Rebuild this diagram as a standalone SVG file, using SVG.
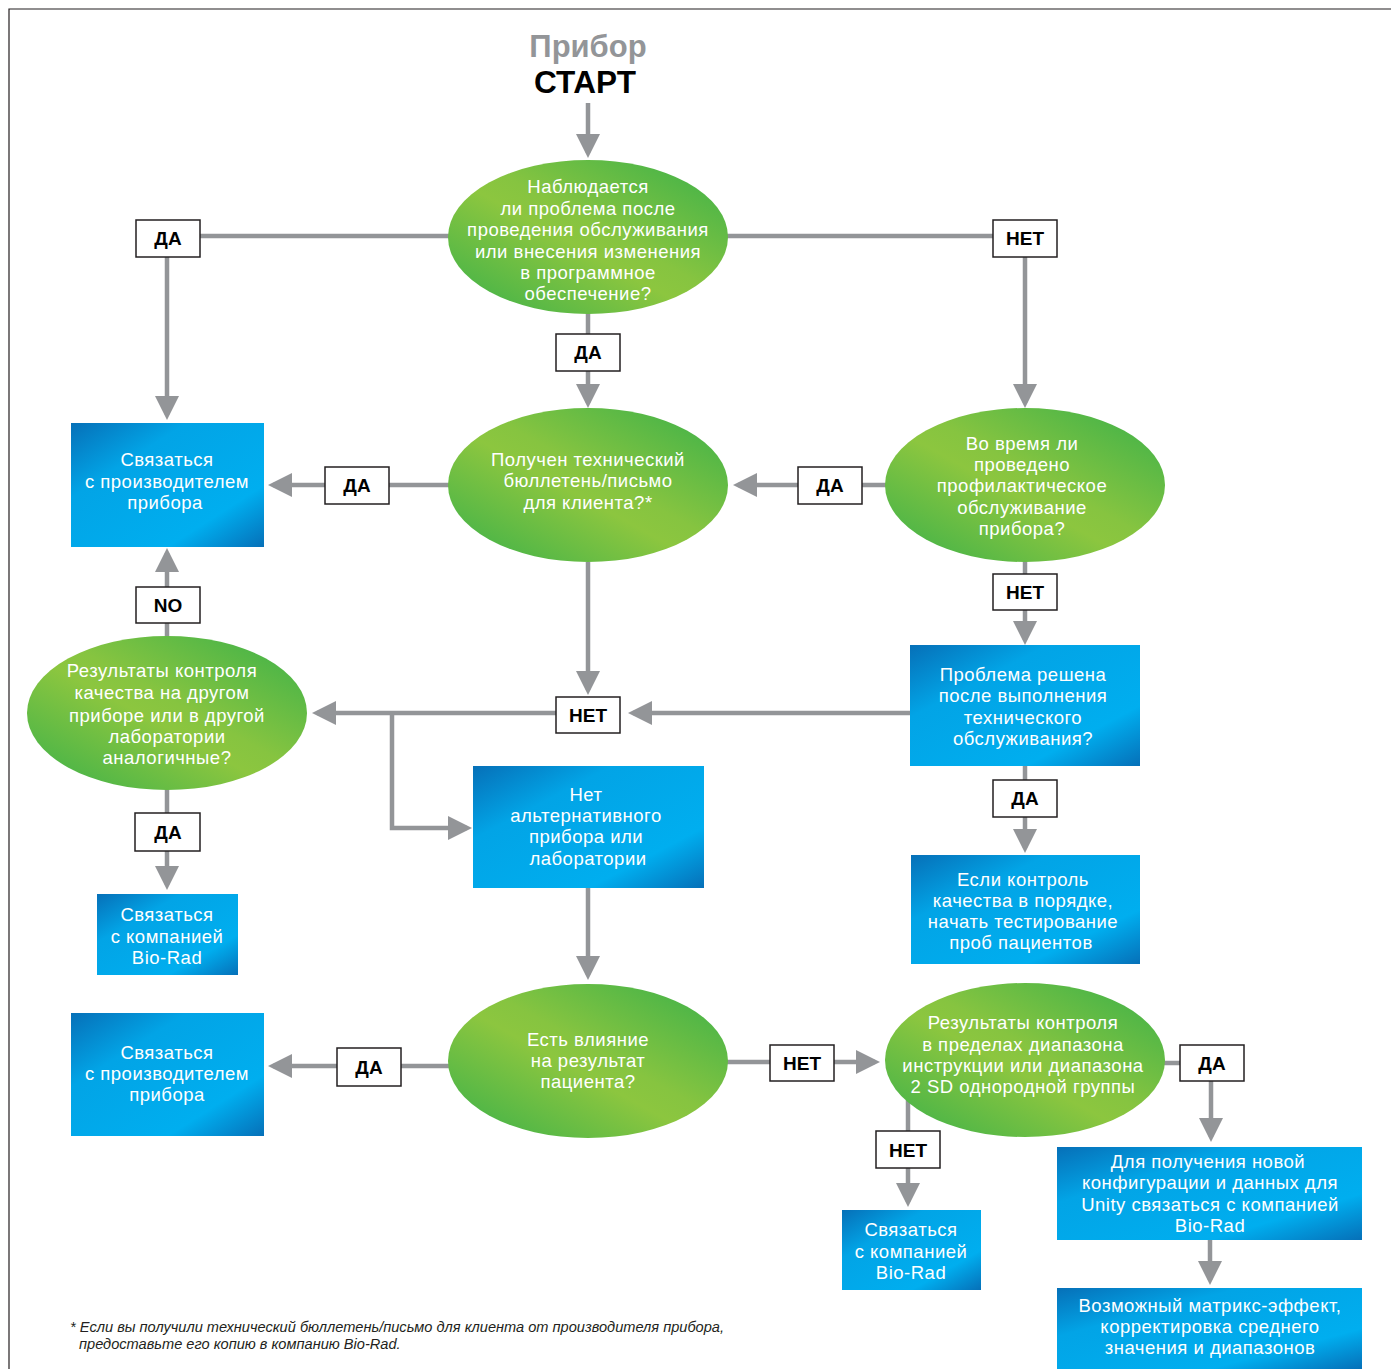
<svg xmlns="http://www.w3.org/2000/svg" width="1391" height="1369" viewBox="0 0 1391 1369">
<defs>
<linearGradient id="gGreen" x1="0" y1="1" x2="1" y2="0">
<stop offset="0" stop-color="#38b04a"/>
<stop offset="0.45" stop-color="#8cc63f"/>
<stop offset="0.55" stop-color="#86c440"/>
<stop offset="1" stop-color="#38b04a"/>
</linearGradient>
<linearGradient id="gBlue" x1="0" y1="0" x2="1" y2="1">
<stop offset="0" stop-color="#0670b8"/>
<stop offset="0.3" stop-color="#02a4e6"/>
<stop offset="0.75" stop-color="#00aeef"/>
<stop offset="1" stop-color="#0670b8"/>
</linearGradient>
<marker id="arr" viewBox="0 0 24 24" refX="19" refY="12" markerWidth="24" markerHeight="24" markerUnits="userSpaceOnUse" orient="auto">
<path d="M0,0 L24,12 L0,24 z" fill="#939598"/>
</marker>
</defs>
<style>
.frame{fill:none;stroke:#231f20;stroke-width:1.2}
.c{fill:none;stroke:#939598;stroke-width:4.5}
.ca{fill:none;stroke:#939598;stroke-width:4.5;marker-end:url(#arr)}
.ell{fill:url(#gGreen)}
.box{fill:url(#gBlue)}
.t{font-family:"Liberation Sans",Arial,sans-serif;font-size:18.5px;letter-spacing:0.5px;fill:#ffffff;text-anchor:middle}
.lb rect{fill:#ffffff;stroke:#231f20;stroke-width:1.5}
.lb text{font-family:"Liberation Sans",Arial,sans-serif;font-size:19px;font-weight:bold;fill:#000000;text-anchor:middle}
.title{font-family:"Liberation Sans",Arial,sans-serif;font-weight:bold;text-anchor:middle}
.foot{font-family:"Liberation Sans",Arial,sans-serif;font-size:14.6px;font-style:italic;fill:#231f20}
</style>
<rect width="1391" height="1369" fill="#ffffff"/>
<path class="frame" d="M9,1369 V9 H1391"/>

<g id="title">
<text class="title" x="588" y="57" font-size="31" fill="#939598">Прибор</text>
<text class="title" x="585" y="93" font-size="31.5" fill="#000000">СТАРТ</text>
</g>

<g id="connectors">
<path class="ca" d="M588,103 V153"/>
<path class="ca" d="M450,236 H167 V415"/>
<path class="ca" d="M726,236 H1025 V403"/>
<path class="ca" d="M588,312 V403"/>
<path class="ca" d="M450,485 H273"/>
<path class="ca" d="M887,485 H738"/>
<path class="ca" d="M1025,560 V640"/>
<path class="ca" d="M1025,766 V848"/>
<path class="ca" d="M910,713 H633"/>
<path class="ca" d="M588,562 V690"/>
<path class="ca" d="M556,713 H317"/>
<path class="ca" d="M392,713 V828 H467"/>
<path class="ca" d="M167,638 V553"/>
<path class="ca" d="M167,788 V885"/>
<path class="ca" d="M588,888 V975"/>
<path class="ca" d="M450,1066 H273"/>
<path class="ca" d="M726,1062 H875"/>
<path class="ca" d="M1163,1063 H1211 V1137"/>
<path class="ca" d="M1210,1240 V1280"/>
<path class="ca" d="M908,1100 V1202"/>
</g>

<g id="lbl1" class="lb"><rect x="136" y="220" width="64" height="37"/><text x="168" y="245">ДА</text></g>
<g id="lbl2" class="lb"><rect x="993" y="220" width="64" height="37"/><text x="1025" y="245">НЕТ</text></g>
<g id="lbl3" class="lb"><rect x="556" y="334" width="64" height="37"/><text x="588" y="359">ДА</text></g>
<g id="lbl4" class="lb"><rect x="325" y="467" width="64" height="37"/><text x="357" y="492">ДА</text></g>
<g id="lbl5" class="lb"><rect x="798" y="467" width="64" height="37"/><text x="830" y="492">ДА</text></g>
<g id="lbl6" class="lb"><rect x="993" y="574" width="64" height="36"/><text x="1025" y="599">НЕТ</text></g>
<g id="lbl7" class="lb"><rect x="556" y="697" width="64" height="36"/><text x="588" y="722">НЕТ</text></g>
<g id="lbl8" class="lb"><rect x="136" y="587" width="64" height="36"/><text x="168" y="612">NO</text></g>
<g id="lbl9" class="lb"><rect x="993" y="780" width="64" height="37"/><text x="1025" y="805">ДА</text></g>
<g id="lbl10" class="lb"><rect x="135" y="813" width="65" height="38"/><text x="168" y="839">ДА</text></g>
<g id="lbl11" class="lb"><rect x="337" y="1048" width="64" height="38"/><text x="369" y="1074">ДА</text></g>
<g id="lbl12" class="lb"><rect x="770" y="1045" width="64" height="36"/><text x="802" y="1070">НЕТ</text></g>
<g id="lbl13" class="lb"><rect x="1180" y="1045" width="64" height="36"/><text x="1212" y="1070">ДА</text></g>
<g id="lbl14" class="lb"><rect x="876" y="1131" width="64" height="37"/><text x="908" y="1157">НЕТ</text></g>

<g id="n1">
<ellipse class="ell" cx="588" cy="237" rx="140" ry="77"/>
<text class="t" x="588" y="193">Наблюдается</text>
<text class="t" x="588" y="215">ли проблема после</text>
<text class="t" x="588" y="236">проведения обслуживания</text>
<text class="t" x="588" y="258">или внесения изменения</text>
<text class="t" x="588" y="279">в программное</text>
<text class="t" x="588" y="300">обеспечение?</text>
</g>

<g id="n2">
<ellipse class="ell" cx="588" cy="485" rx="140" ry="77"/>
<text class="t" x="588" y="466">Получен технический</text>
<text class="t" x="588" y="487">бюллетень/письмо</text>
<text class="t" x="588" y="509">для клиента?*</text>
</g>

<g id="n3">
<ellipse class="ell" cx="1025" cy="485" rx="140" ry="77"/>
<text class="t" x="1022" y="450">Во время ли</text>
<text class="t" x="1022" y="471">проведено</text>
<text class="t" x="1022" y="492">профилактическое</text>
<text class="t" x="1022" y="514">обслуживание</text>
<text class="t" x="1022" y="535">прибора?</text>
</g>

<g id="n4">
<rect class="box" x="71" y="423" width="193" height="124"/>
<text class="t" x="167" y="466">Связаться</text>
<text class="t" x="167" y="488">с производителем</text>
<text class="t" x="165" y="509">прибора</text>
</g>

<g id="n5">
<rect class="box" x="910" y="645" width="230" height="121"/>
<text class="t" x="1023" y="681">Проблема решена</text>
<text class="t" x="1023" y="702">после выполнения</text>
<text class="t" x="1023" y="724">технического</text>
<text class="t" x="1023" y="745">обслуживания?</text>
</g>

<g id="n6">
<rect class="box" x="911" y="855" width="229" height="109"/>
<text class="t" x="1023" y="886">Если контроль</text>
<text class="t" x="1023" y="907">качества в порядке,</text>
<text class="t" x="1023" y="928">начать тестирование</text>
<text class="t" x="1021" y="949">проб пациентов</text>
</g>

<g id="n7">
<ellipse class="ell" cx="167" cy="713" rx="140" ry="77"/>
<text class="t" x="162" y="677">Результаты контроля</text>
<text class="t" x="162" y="699">качества на другом</text>
<text class="t" x="167" y="722">приборе или в другой</text>
<text class="t" x="167" y="743">лаборатории</text>
<text class="t" x="167" y="764">аналогичные?</text>
</g>

<g id="n8">
<rect class="box" x="473" y="766" width="231" height="122"/>
<text class="t" x="586" y="801">Нет</text>
<text class="t" x="586" y="822">альтернативного</text>
<text class="t" x="586" y="843">прибора или</text>
<text class="t" x="588" y="865">лаборатории</text>
</g>

<g id="n9">
<rect class="box" x="97" y="894" width="141" height="81"/>
<text class="t" x="167" y="921">Связаться</text>
<text class="t" x="167" y="943">с компанией</text>
<text class="t" x="167" y="964">Bio-Rad</text>
</g>

<g id="n10">
<ellipse class="ell" cx="588" cy="1061" rx="140" ry="77"/>
<text class="t" x="588" y="1046">Есть влияние</text>
<text class="t" x="588" y="1067">на результат</text>
<text class="t" x="588" y="1088">пациента?</text>
</g>

<g id="n11">
<rect class="box" x="71" y="1013" width="193" height="123"/>
<text class="t" x="167" y="1059">Связаться</text>
<text class="t" x="167" y="1080">с производителем</text>
<text class="t" x="167" y="1101">прибора</text>
</g>

<g id="n12">
<ellipse class="ell" cx="1025" cy="1060" rx="140" ry="77"/>
<text class="t" x="1023" y="1029">Результаты контроля</text>
<text class="t" x="1023" y="1051">в пределах диапазона</text>
<text class="t" x="1023" y="1072">инструкции или диапазона</text>
<text class="t" x="1023" y="1093">2 SD однородной группы</text>
</g>

<g id="n13">
<rect class="box" x="1057" y="1147" width="305" height="93"/>
<text class="t" x="1208" y="1168">Для получения новой</text>
<text class="t" x="1210" y="1189">конфигурации и данных для</text>
<text class="t" x="1210" y="1211">Unity связаться с компанией</text>
<text class="t" x="1210" y="1232">Bio-Rad</text>
</g>

<g id="n14">
<rect class="box" x="1057" y="1288" width="305" height="81"/>
<text class="t" x="1210" y="1312">Возможный матрикс-эффект,</text>
<text class="t" x="1210" y="1333">корректировка среднего</text>
<text class="t" x="1210" y="1354">значения и диапазонов</text>
</g>

<g id="n15">
<rect class="box" x="842" y="1210" width="139" height="80"/>
<text class="t" x="911" y="1236">Связаться</text>
<text class="t" x="911" y="1258">с компанией</text>
<text class="t" x="911" y="1279">Bio-Rad</text>
</g>

<g id="footnote">
<text class="foot" x="70" y="1332">* Если вы получили технический бюллетень/письмо для клиента от производителя прибора,</text>
<text class="foot" x="79" y="1349">предоставьте его копию в компанию Bio-Rad.</text>
</g>
</svg>
